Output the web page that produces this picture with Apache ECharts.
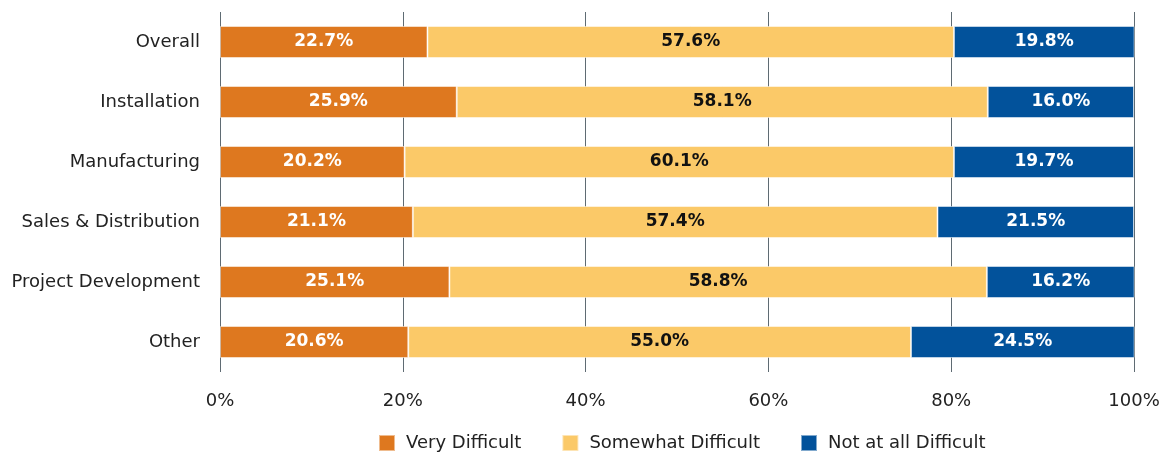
<!DOCTYPE html>
<html lang="en">
<head>
    <meta charset="UTF-8">
    <title>Difficulty by segment</title>
    <style>
        body { margin: 0; background: #fff; }
    </style>
</head>
<body>
<script src="https://cdn.jsdelivr.net/npm/echarts@6/dist/echarts.min.js"></script>
<div id="main" style="width: 1164px;height:456px;"></div>

<script>
    var myChart = echarts.init(document.getElementById('main'));

    // top to bottom as in the picture
    var categories = ['Overall', 'Installation', 'Manufacturing', 'Sales & Distribution', 'Project Development', 'Other'];
    var veryDifficult = [22.7, 25.9, 20.2, 21.1, 25.1, 20.6];
    var somewhatDifficult = [57.6, 58.1, 60.1, 57.4, 58.8, 55.0];
    var notAtAllDifficult = [19.8, 16.0, 19.7, 21.5, 16.2, 24.5];

    var textFont = 'DejaVu Sans, sans-serif';

    function barSeries(name, data, color, textColor) {
        return {
            name: name,
            type: 'bar',
            stack: 'total',
            barWidth: 32,
            data: data,
            itemStyle: {color: color, borderColor: 'rgba(255,255,255,0.5)', borderWidth: 1},
            label: {
                show: true,
                position: 'inside',
                color: textColor,
                fontFamily: textFont,
                fontWeight: 'bold',
                fontSize: 17,
                formatter: function (p) {
                    return p.value.toFixed(1) + '%';
                }
            }
        };
    }

    var option = {
        animation: false,
        grid: {left: 220, right: 30, top: 12, bottom: 84},
        legend: {
            top: 429,
            left: 373,
            itemWidth: 16,
            itemHeight: 16,
            itemGap: 40,
            icon: 'rect',
            textStyle: {fontSize: 18, color: '#222', fontFamily: textFont, padding: [0, 0, 0, 6]},
            data: ['Very Difficult', 'Somewhat Difficult', 'Not at all Difficult']
        },
        xAxis: {
            type: 'value',
            min: 0,
            max: 100,
            interval: 20,
            axisLine: {show: false},
            axisTick: {show: false},
            splitLine: {show: true, lineStyle: {color: '#5f6b73', width: 1}},
            axisLabel: {
                formatter: '{value}%',
                fontSize: 18,
                color: '#222',
                margin: 20,
                fontFamily: textFont
            }
        },
        yAxis: {
            type: 'category',
            inverse: true,
            data: categories,
            axisLine: {show: false},
            axisTick: {show: false},
            axisLabel: {fontSize: 18, color: '#222', margin: 20, fontFamily: textFont}
        },
        series: [
            barSeries('Very Difficult', veryDifficult, '#de781f', '#fff'),
            barSeries('Somewhat Difficult', somewhatDifficult, '#fbc968', '#111'),
            barSeries('Not at all Difficult', notAtAllDifficult, '#02529b', '#fff')
        ]
    };

    myChart.setOption(option);
</script>
</body>
</html>
